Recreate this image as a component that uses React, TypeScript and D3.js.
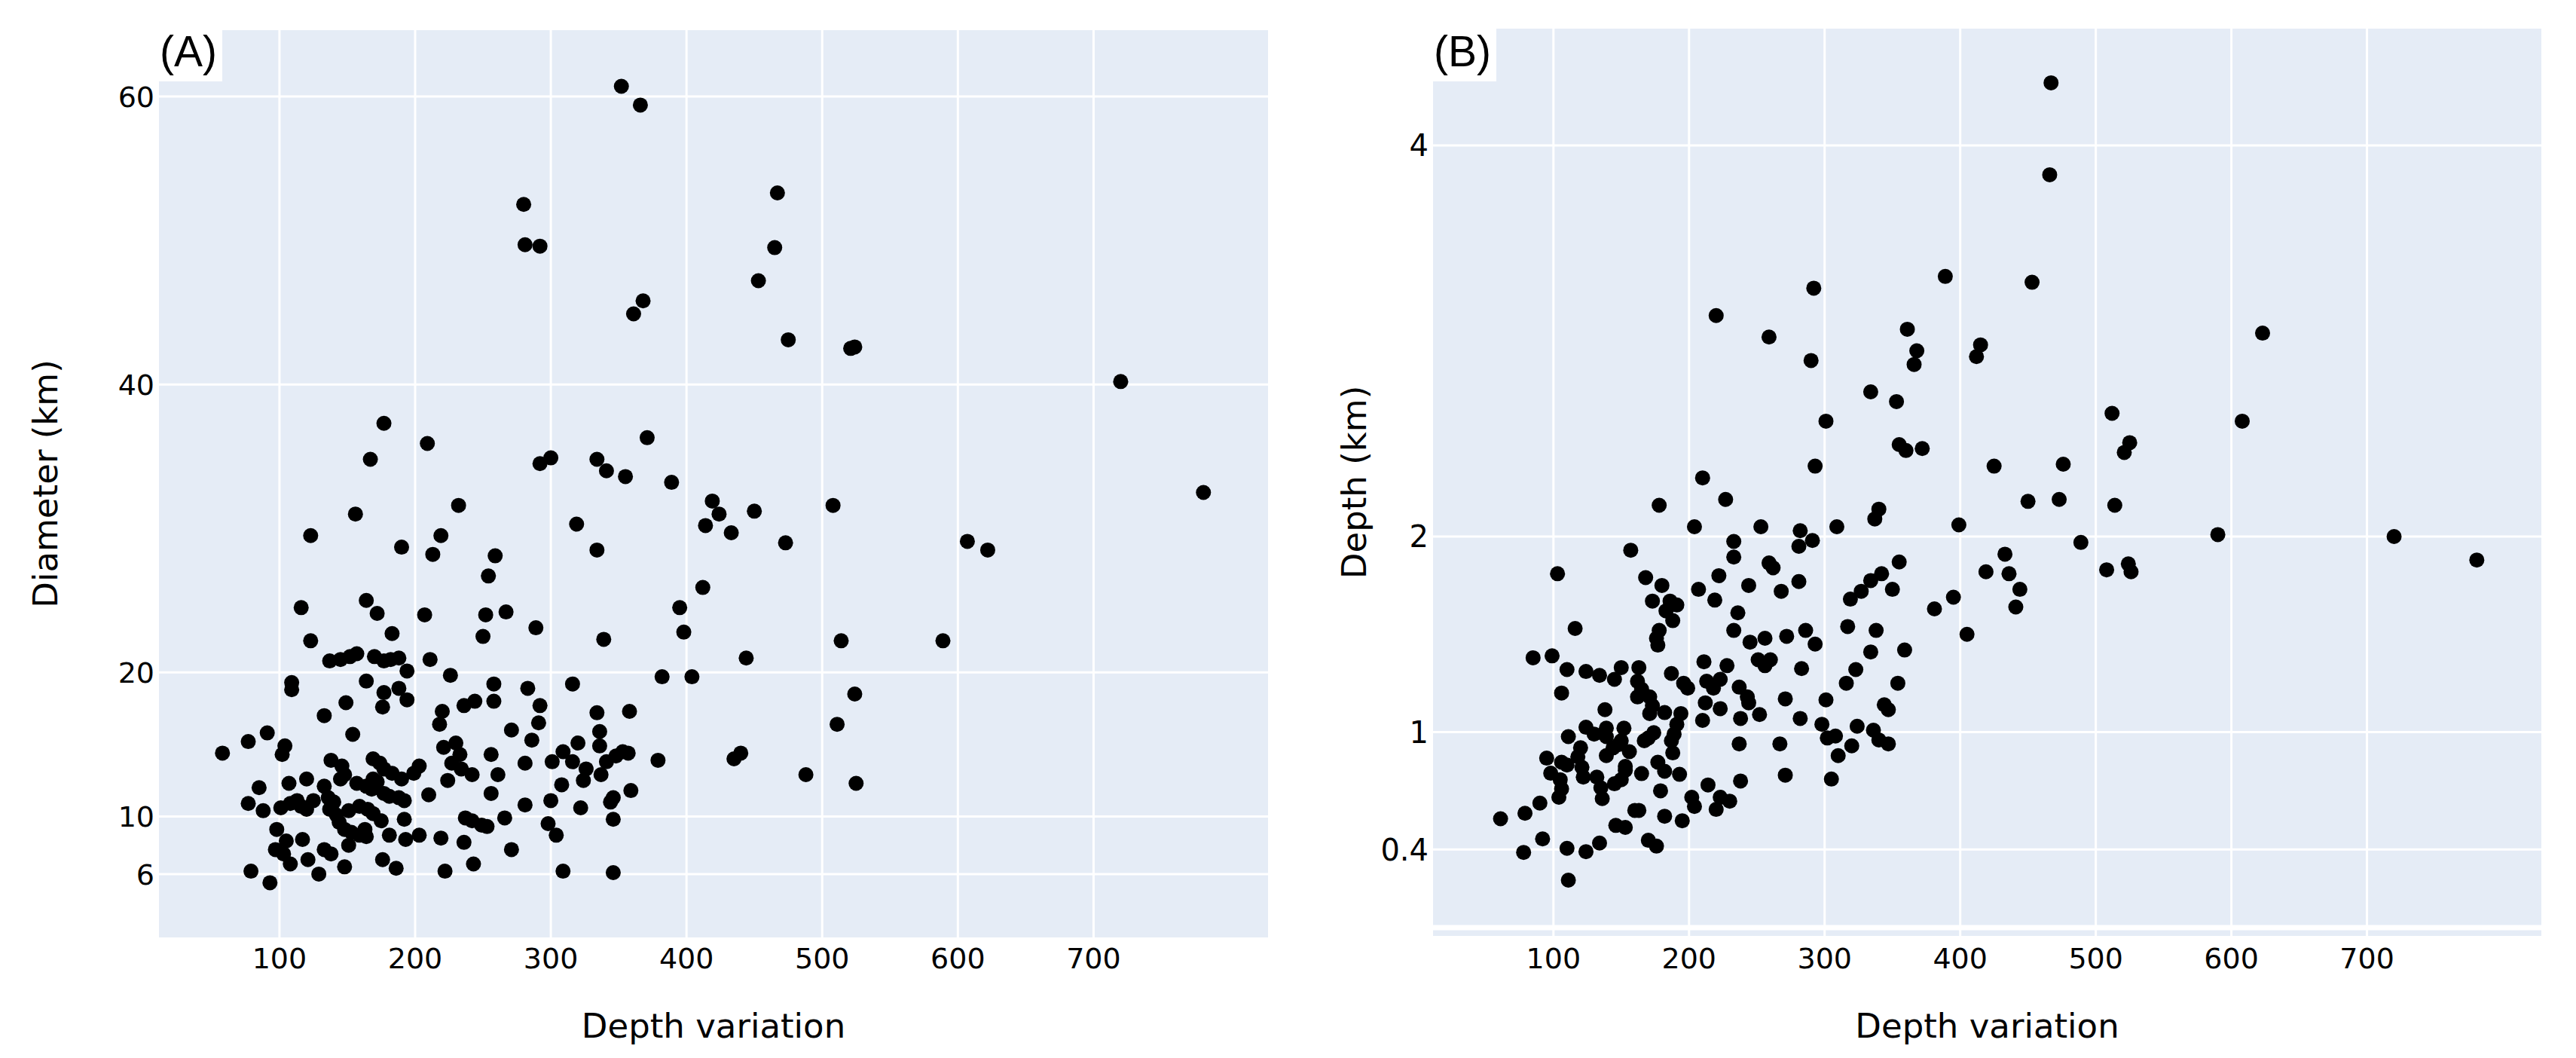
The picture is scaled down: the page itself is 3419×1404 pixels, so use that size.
import * as React from 'react';
import * as d3 from 'd3';

// Panel A: depth variation vs crater diameter (km)
const depthVarA = [
  352, 366, 280, 281, 292, 467, 465, 453, 368, 361, 475, 521, 524,
  720, 389, 419, 424, 450, 414, 433, 473, 508, 607, 622, 781, 412, 395, 398, 444, 514, 589, 382, 404, 524, 511, 435, 440, 488, 525,
  177, 209, 167, 292, 300, 334, 341, 355, 371, 156, 123, 232, 219, 190, 213, 259, 254, 319, 334,
  116, 164, 172, 207, 252, 267, 183, 250, 289, 339, 123, 137, 145, 152, 157, 170, 177, 182, 188, 194,
  211, 226, 109, 109, 164, 177, 188, 194, 176, 149, 133, 258, 258, 283, 316, 292, 291, 271, 286, 334,
  358, 336, 336, 320, 379, 353, 357, 348, 341, 326, 324, 337, 309, 316, 301, 308, 300, 322, 344, 346,
  359, 346, 281, 281, 256, 261, 256, 266, 298, 304, 271, 309, 346, 243, 222, 236, 237, 242, 249, 253,
  219, 210, 220, 218, 221, 230, 233, 227, 234, 242, 224, 203, 199, 190, 183, 177, 169, 174, 169, 172,
  168, 164, 157, 177, 181, 188, 192, 146, 148, 145, 138, 120, 107, 85, 77, 88, 101, 108, 113, 116,
  120, 125, 133, 136, 140, 137, 142, 144, 148, 153, 159, 164, 151, 159, 165, 169, 175, 181, 192, 193,
  203, 163, 151, 133, 138, 176, 186, 148, 129, 121, 117, 98, 105, 97, 103, 108, 79, 93, 58, 77,
  91, 104, 102, 154, 236, 244,
];
const diameterA = [
  60.7, 59.4, 52.5, 49.7, 49.6, 53.3, 49.5, 47.2, 45.8, 44.9, 43.1, 42.5, 42.6,
  40.2, 33.2, 31.9, 31.0, 31.2, 30.2, 29.7, 29.0, 31.6, 29.1, 28.5, 32.5, 25.9, 24.5, 22.8, 21.0, 22.2, 22.2, 19.7, 19.7, 18.5, 16.4, 14.0, 14.4, 12.9, 12.3,
  37.3, 35.9, 34.8, 34.5, 34.9, 34.8, 34.0, 33.6, 36.3, 31.0, 29.5, 31.6, 29.5, 28.7, 28.2, 28.1, 26.7, 30.3, 28.5,
  24.5, 25.0, 24.1, 24.0, 24.0, 24.2, 22.7, 22.5, 23.1, 22.3, 22.2, 20.8, 20.9, 21.1, 21.3, 21.1, 20.8, 20.9, 21.0, 20.1,
  20.9, 19.8, 19.3, 18.8, 19.4, 18.6, 18.9, 18.1, 17.6, 17.9, 17.0, 19.2, 18.0, 18.9, 19.2, 17.7, 16.5, 16.0, 15.3, 17.2,
  17.3, 15.9, 14.9, 15.1, 13.9, 14.5, 14.4, 14.2, 13.8, 13.3, 12.5, 12.9, 14.5, 13.8, 13.8, 12.2, 11.1, 10.6, 11.0, 11.3,
  11.8, 9.8, 10.8, 13.7, 14.3, 12.9, 11.6, 9.9, 9.5, 8.7, 7.7, 6.2, 6.1, 6.7, 6.2, 8.2, 9.9, 9.7, 9.4, 9.3,
  8.5, 11.5, 17.3, 16.4, 14.8, 15.1, 14.3, 13.7, 13.3, 12.9, 12.5, 13.5, 13.0, 12.6, 13.0, 13.3, 14.0, 13.7, 12.6, 12.4,
  11.9, 12.1, 12.3, 11.6, 11.4, 11.3, 11.1, 13.5, 12.9, 12.6, 13.9, 12.6, 12.3, 12.0, 10.9, 10.4, 10.6, 10.9, 11.1, 10.7,
  10.5, 11.1, 12.1, 11.3, 11.0, 10.5, 10.1, 9.6, 9.1, 8.9, 8.7, 8.6, 10.4, 10.7, 10.5, 10.2, 9.7, 8.7, 9.8, 8.4,
  8.7, 9.1, 8.0, 7.7, 7.4, 7.0, 6.4, 6.5, 6.0, 7.0, 8.4, 9.1, 8.3, 7.7, 7.4, 6.7, 6.2, 5.4, 14.4, 15.2,
  15.8, 14.9, 14.3, 15.7, 17.7, 18.0,
];

// Panel B: depth variation vs crater depth (km)
const depthVarB = [
  467, 466, 453, 415, 412, 623, 512, 608, 525, 521, 425, 476, 450, 473, 514, 399, 489, 590, 720, 781,
  433, 419, 436, 444, 441, 395, 405, 508, 524, 526,
  292, 220, 259, 290, 389, 361, 368, 366, 334, 353, 301, 355, 360, 372, 293, 210, 227,
  178, 204, 253, 282, 309, 340, 337, 233, 233, 291, 281, 157, 103, 259, 262, 222, 244, 281, 268, 207,
  219, 168, 180, 173, 186, 191, 183, 188, 355, 342, 334, 327, 319, 350, 381, 236, 116, 178, 176, 177,
  233, 245, 256, 251, 256, 260, 272, 286, 293, 317, 338, 334, 359, 283, 323, 316, 354, 85, 99, 110,
  124, 134, 145, 150, 163, 106, 162, 165, 162, 171, 173, 171, 182, 187, 196, 199, 211, 213, 218, 223,
  228, 212, 210, 223, 237, 243, 244, 252, 238, 271, 301, 282, 298, 302, 308, 324, 344, 347, 336, 340,
  347, 320, 310, 267, 237, 271, 305, 238, 194, 191, 189, 187, 188, 138, 124, 130, 139, 139, 111, 152,
  150, 156, 144, 148, 170, 174, 167, 120, 118, 139, 153, 153, 95, 106, 110, 98, 121, 122, 132, 105,
  106, 104, 135, 136, 145, 150, 165, 177, 182, 193, 179, 214, 223, 230, 220, 202, 204, 160, 163, 182,
  195, 146, 153, 170, 176, 134, 124, 110, 111, 92, 78, 90, 79, 61,
];
const depthB = [
  4.32, 3.85, 3.30, 2.98, 2.92, 3.04, 2.63, 2.59, 2.48, 2.43, 2.36, 2.37, 2.18, 2.19, 2.16, 2.06, 1.97, 2.01, 2.00, 1.88,
  1.91, 1.82, 1.81, 1.73, 1.64, 1.69, 1.50, 1.83, 1.86, 1.82,
  3.27, 3.13, 3.02, 2.90, 3.33, 3.06, 2.95, 2.88, 2.74, 2.69, 2.59, 2.47, 2.44, 2.45, 2.36, 2.30, 2.19,
  2.16, 2.05, 2.05, 2.03, 2.05, 2.14, 2.09, 1.975, 1.895, 1.98, 1.95, 1.93, 1.81, 1.865, 1.84, 1.80, 1.75, 1.77, 1.72, 1.73,
  1.675, 1.79, 1.75, 1.67, 1.67, 1.65, 1.62, 1.57, 1.87, 1.81, 1.775, 1.72, 1.68, 1.73, 1.63, 1.61, 1.53, 1.52, 1.48, 1.445,
  1.52, 1.46, 1.48, 1.37, 1.34, 1.37, 1.49, 1.52, 1.45, 1.54, 1.52, 1.41, 1.42, 1.325, 1.32, 1.25, 1.25, 1.38, 1.39, 1.32,
  1.31, 1.29, 1.27, 1.33, 1.33, 1.20, 1.26, 1.22, 1.18, 1.18, 1.135, 1.095, 1.10, 1.30, 1.25, 1.225, 1.36, 1.26, 1.225, 1.27,
  1.34, 1.15, 1.06, 1.12, 1.23, 1.18, 1.15, 1.09, 1.07, 1.17, 1.165, 1.07, 1.04, 0.97, 0.98, 1.03, 1.14, 1.115, 1.01, 0.96,
  0.94, 0.93, 0.88, 0.94, 0.94, 0.78, 0.76, 0.75, 1.095, 1.04, 0.99, 0.956, 0.894, 1.115, 1.025, 0.99, 1.02, 0.977, 0.977, 1.02,
  0.956, 0.90, 0.92, 0.936, 0.97, 0.997, 0.956, 0.92, 0.874, 0.88, 0.825, 0.805, 0.867, 0.846, 0.832, 0.79, 0.82, 0.77, 0.77, 0.757,
  0.71, 0.667, 0.715, 0.66, 0.736, 0.757, 0.788, 0.846, 0.80, 0.784, 0.70, 0.73, 0.667, 0.647, 0.605, 0.667, 0.62, 0.60, 0.60, 0.57,
  0.547, 0.523, 0.513, 0.447, 0.417, 0.433, 0.389, 0.406, 0.243, 0.454, 0.385, 0.637, 0.585, 0.557,
];

const xTicks = [100, 200, 300, 400, 500, 600, 700];
const diameterTicks = [6, 10, 20, 40, 60];
const depthTicks = [0.4, 1, 2, 4];

const FONT = '"DejaVu Sans", Verdana, sans-serif';

type PanelProps = {
  left: number;
  right: number;
  top: number;
  bottom: number;
  xs: number[];
  ys: number[];
  yDomain: [number, number];
  yTicks: number[];
  yTickSize: number;
  yTitle: string;
  yTitleX: number;
  label: string;
  zeroLine?: boolean;
};

function Panel(p: PanelProps) {
  const x = d3.scaleLinear().domain([11.2, 828.6]).range([p.left, p.right]);
  const y = d3.scaleLinear().domain(p.yDomain).range([p.bottom, p.top]);
  const cy = (p.top + p.bottom) / 2;
  const cx = (p.left + p.right) / 2;

  return (
    <g>
      <rect x={p.left} y={p.top} width={p.right - p.left} height={p.bottom - p.top} fill="#E5ECF6" />
      {xTicks.map(t => (
        <line key={'gx' + t} x1={x(t)} x2={x(t)} y1={p.top} y2={p.bottom} stroke="#fff" strokeWidth={3} />
      ))}
      {p.yTicks.map(t => (
        <line key={'gy' + t} x1={p.left} x2={p.right} y1={y(t)} y2={y(t)} stroke="#fff" strokeWidth={3} />
      ))}
      {p.zeroLine && (
        <line x1={p.left} x2={p.right} y1={y(0)} y2={y(0)} stroke="#fff" strokeWidth={7} />
      )}
      {p.xs.map((d, i) => (
        <circle key={i} cx={x(d)} cy={y(p.ys[i])} r={10} fill="#000" />
      ))}
      {xTicks.map(t => (
        <text key={'tx' + t} x={x(t)} y={1285} textAnchor="middle" fontFamily={FONT} fontSize={38} fill="#000">
          {t}
        </text>
      ))}
      {p.yTicks.map(t => (
        <text key={'ty' + t} x={p.left - 6} y={y(t)} dy="0.36em" textAnchor="end" fontFamily={FONT} fontSize={p.yTickSize} fill="#000">
          {t}
        </text>
      ))}
      <text x={cx} y={1377} textAnchor="middle" fontFamily={FONT} fontSize={45} fill="#000">
        Depth variation
      </text>
      <text transform={`translate(${p.yTitleX},${cy}) rotate(-90)`} textAnchor="middle" fontFamily={FONT} fontSize={45} fill="#000">
        {p.yTitle}
      </text>
      <rect x={p.left - 7} y={28} width={91} height={80} fill="#fff" />
      <text x={p.left + 1} y={88} fontFamily='"Liberation Sans", Arial, sans-serif' fontSize={57} fill="#000">
        {p.label}
      </text>
    </g>
  );
}

export default function App() {
  return (
    <svg width={3419} height={1404} style={{ position: 'absolute', left: 0, top: 0, background: '#fff' }}>
      <Panel
        left={211} right={1683} top={40} bottom={1244}
        xs={depthVarA} ys={diameterA}
        yDomain={[1.6, 64.6]} yTicks={diameterTicks} yTickSize={38}
        yTitle="Diameter (km)" yTitleX={76} label="(A)"
      />
      <Panel
        left={1902} right={3373} top={38} bottom={1242}
        xs={depthVarB} ys={depthB}
        yDomain={[-0.042, 4.597]} yTicks={depthTicks} yTickSize={40}
        yTitle="Depth (km)" yTitleX={1813} label="(B)" zeroLine
      />
    </svg>
  );
}
